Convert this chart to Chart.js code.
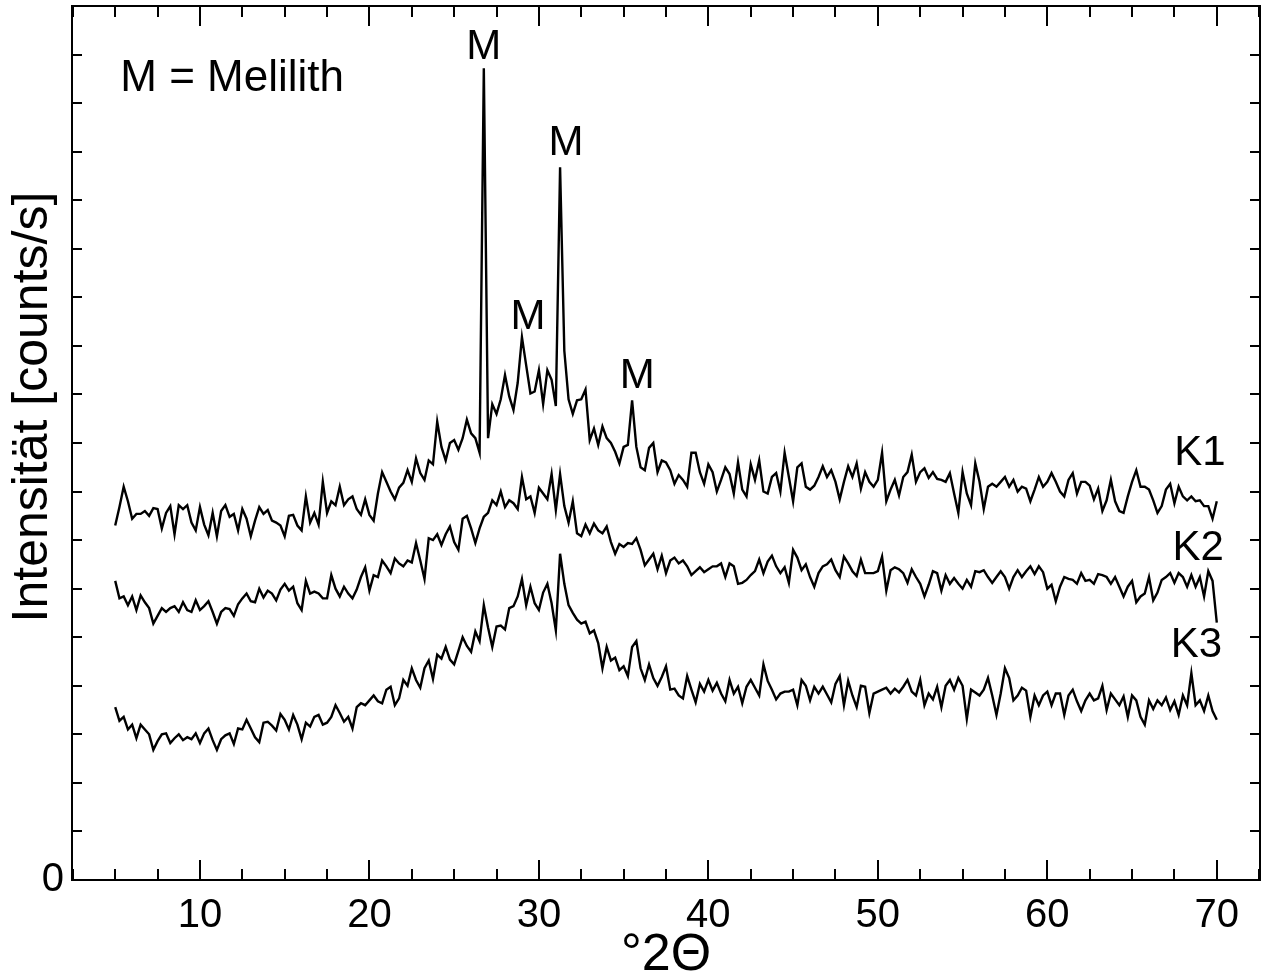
<!DOCTYPE html>
<html>
<head>
<meta charset="utf-8">
<script src="https://cdn.jsdelivr.net/npm/chart.js@4/dist/chart.umd.min.js"></script>
<style>
  html, body { margin: 0; padding: 0; background: #fff; }
  #wrap { width: 1264px; height: 976px; }
</style>
</head>
<body>
<div id="wrap"><canvas id="myChart" width="1264" height="976"></canvas></div>
<script>
// scan starts at 5 °2Θ, one reading every 0.25°
var startAngle = 5;
var stepAngle = 0.25;

// counts/s, one row per degree (x.00, x.25, x.50, x.75)
var k1 = [
    365, 384, 405, 390,  372, 377, 377, 380,  375, 383, 382, 362,  378, 385, 356, 386,  382, 386, 368, 360,
    384, 366, 355, 378,  354, 380, 386, 374,  377, 360, 382, 372,  354, 370, 384, 377,  381, 370, 368, 365,
    354, 375, 376, 365,  360, 395, 368, 378,  366, 410, 378, 390,  386, 405, 386, 392,  395, 382, 376, 392,
    376, 370, 398, 420,  410, 400, 392, 404,  409, 422, 410, 434,  419, 412, 432, 428,  472, 446, 432, 450,
    453, 443, 455, 474,  460, 455, 440, 836,  455, 490, 480, 495,  520, 498, 484, 512,  559, 530, 501, 503,
    525, 490, 525, 515,  488, 734, 545, 495,  480, 494, 495, 505,  453, 465, 448, 467,  455, 450, 441, 429,
    446, 448, 494, 446,  425, 422, 445, 450,  420, 432, 430, 422,  408, 417, 412, 405,  440, 440, 420, 408,
    428, 420, 400, 412,  425, 418, 398, 430,  402, 395, 428, 412,  432, 400, 398, 415,  419, 400, 440, 415,
    390, 425, 429, 405,  402, 406, 415, 426,  415, 422, 410, 392,  410, 426, 415, 429,  403, 420, 410, 405,
    412, 440, 390, 402,  412, 396, 415, 420,  438, 410, 420, 424,  414, 420, 413, 412,  410, 419, 398, 378,
    420, 398, 386, 429,  410, 382, 405, 408,  405, 410, 415, 405,  412, 400, 405, 403,  390, 402, 415, 405,
    410, 419, 410, 400,  395, 412, 419, 398,  410, 410, 406, 392,  403, 380, 391, 412,  390, 380, 378, 395,
    410, 422, 405, 405,  402, 391, 378, 385,  402, 408, 388, 405,  395, 391, 395, 390,  391, 385, 385, 372,
    390
];
var k2 = [
    308, 290, 292, 283,  292, 278, 293, 286,  280, 264, 272, 280,  276, 280, 282, 276,  286, 278, 276, 288,
    278, 282, 287, 276,  264, 276, 280, 279,  272, 284, 290, 295,  287, 286, 300, 291,  298, 295, 288, 299,
    305, 298, 302, 285,  278, 308, 295, 297,  295, 290, 290, 314,  300, 292, 302, 295,  290, 299, 312, 322,
    298, 314, 312, 329,  323, 316, 331, 326,  323, 329, 327, 347,  329, 310, 352, 350,  356, 345, 356, 364,
    348, 340, 372, 375,  362, 347, 362, 374,  378, 391, 386, 400,  384, 391, 388, 382,  415, 392, 395, 378,
    404, 398, 392, 418,  381, 418, 385, 368,  390, 357, 354, 366,  357, 367, 360, 357,  364, 348, 336, 346,
    343, 347, 346, 352,  340, 324, 330, 336,  320, 334, 316, 329,  332, 326, 329, 323,  314, 318, 322, 317,
    320, 323, 323, 326,  312, 326, 323, 305,  306, 309, 314, 318,  330, 316, 328, 334,  323, 316, 322, 306,
    340, 332, 319, 325,  312, 302, 316, 323,  325, 330, 319, 312,  333, 326, 318, 313,  330, 316, 316, 316,
    318, 333, 298, 319,  322, 320, 316, 306,  320, 312, 305, 292,  304, 318, 316, 298,  314, 305, 311, 305,
    300, 309, 302, 318,  317, 319, 312, 306,  312, 318, 312, 300,  312, 319, 312, 318,  323, 315, 323, 317,
    300, 304, 287, 302,  312, 310, 309, 305,  316, 308, 309, 305,  315, 314, 312, 305,  312, 302, 292, 302,
    308, 286, 292, 295,  312, 288, 296, 309,  312, 316, 306, 316,  312, 302, 314, 302,  312, 292, 318, 308,
    265
];
var k3 = [
    178, 164, 168, 155,  160, 146, 160, 155,  150, 134, 143, 150,  151, 141, 146, 150,  144, 147, 145, 151,
    141, 151, 156, 144,  134, 145, 149, 151,  140, 156, 155, 165,  156, 147, 142, 162,  163, 159, 154, 171,
    165, 155, 170, 160,  145, 162, 158, 168,  170, 160, 162, 168,  180, 172, 163, 168,  156, 178, 182, 180,
    185, 190, 184, 182,  196, 199, 180, 187,  206, 200, 218, 206,  198, 218, 226, 207,  232, 228, 240, 227,
    222, 236, 250, 241,  235, 256, 246, 283,  260, 240, 261, 262,  258, 280, 282, 292,  310, 283, 302, 285,
    278, 296, 305, 285,  257, 336, 305, 283,  275, 268, 264, 266,  254, 257, 244, 218,  240, 226, 229, 216,
    220, 210, 240, 246,  218, 206, 222, 208,  200, 209, 220, 196,  197, 190, 187, 210,  196, 183, 202, 194,
    206, 195, 203, 192,  184, 206, 192, 199,  182, 199, 206, 198,  190, 222, 205, 196,  186, 192, 194, 194,
    196, 180, 206, 200,  185, 199, 192, 199,  191, 183, 202, 210,  180, 205, 190, 178,  200, 199, 172, 192,
    194, 196, 198, 192,  197, 193, 199, 206,  194, 190, 206, 180,  192, 186, 199, 178,  200, 206, 196, 208,
    200, 166, 196, 193,  190, 196, 208, 190,  170, 192, 218, 208,  185, 190, 198, 195,  168, 190, 180, 190,
    194, 180, 192, 192,  170, 190, 196, 184,  174, 185, 192, 185,  187, 200, 175, 192,  186, 180, 189, 168,
    190, 185, 168, 160,  185, 176, 185, 180,  188, 175, 184, 170,  190, 180, 213, 180,  185, 174, 190, 174,
    165
];

// labels written into the plot, placed in data units (°2Θ, counts/s)
var noteText = ['M', 'M', 'M', 'M', 'K1', 'K2', 'K3'];
var noteX = [26.75, 31.6, 29.35, 35.8, 69.0, 68.9, 68.8];
var noteY = [857, 759, 579, 519, 439, 341, 242];

var fontName = '"Liberation Sans", Arial, Helvetica, sans-serif';

function toPoints(vals) {
    return vals.map(function (v, i) {
        return { x: startAngle + i * stepAngle, y: v };
    });
}

function lineSet(label, vals) {
    return {
        label: label,
        data: toPoints(vals),
        borderColor: '#000',
        borderWidth: 2.4,
        pointRadius: 0,
        tension: 0,
        fill: false
    };
}

// frame with inward ticks on all four sides, plus the notes and y title
var frameTicks = {
    id: 'frameTicks',
    afterDraw: function (chart) {
        var ctx = chart.ctx;
        var a = chart.chartArea;
        var x = chart.scales.x;
        var y = chart.scales.y;
        ctx.save();
        ctx.strokeStyle = '#000';
        ctx.lineWidth = 2;
        ctx.strokeRect(a.left, a.top, a.right - a.left, a.bottom - a.top);
        ctx.beginPath();
        x.ticks.forEach(function (t) {
            var px = Math.round(x.getPixelForValue(t.value));
            var len = t.value % 10 === 0 ? 20 : 11;
            ctx.moveTo(px, a.bottom);
            ctx.lineTo(px, a.bottom - len);
            ctx.moveTo(px, a.top);
            ctx.lineTo(px, a.top + len);
        });
        y.ticks.forEach(function (t) {
            var py = Math.round(y.getPixelForValue(t.value));
            ctx.moveTo(a.left, py);
            ctx.lineTo(a.left + 10, py);
            ctx.moveTo(a.right, py);
            ctx.lineTo(a.right - 10, py);
        });
        ctx.stroke();

        ctx.fillStyle = '#000';
        ctx.textAlign = 'center';
        ctx.textBaseline = 'middle';
        ctx.font = '42px ' + fontName;
        noteText.forEach(function (s, i) {
            ctx.fillText(s, x.getPixelForValue(noteX[i]), y.getPixelForValue(noteY[i]));
        });

        ctx.textAlign = 'left';
        ctx.font = '44px ' + fontName;
        ctx.fillText('M = Melilith', x.getPixelForValue(5.3), y.getPixelForValue(825));

        ctx.translate(a.left - 39, y.getPixelForValue(487));
        ctx.rotate(-Math.PI / 2);
        ctx.textAlign = 'center';
        ctx.font = '50px ' + fontName;
        ctx.fillText('Intensität [counts/s]', 0, 0);
        ctx.restore();
    }
};

var xrdChart = new Chart('myChart', {
    type: 'line',
    data: {
        datasets: [lineSet('K1', k1), lineSet('K2', k2), lineSet('K3', k3)]
    },
    options: {
        responsive: false,
        animation: false,
        layout: {
            padding: { left: 0, right: 4, top: 6, bottom: 0 }
        },
        plugins: {
            legend: { display: false },
            tooltip: { enabled: false }
        },
        scales: {
            x: {
                type: 'linear',
                min: 2.45,
                max: 72.55,
                grid: { display: false, drawTicks: false },
                border: { display: false },
                ticks: {
                    stepSize: 2.5,
                    includeBounds: false,
                    autoSkip: false,
                    maxRotation: 0,
                    padding: 12,
                    color: '#000',
                    font: { family: fontName, size: 40 },
                    callback: function (v) {
                        return v % 10 === 0 ? String(v) : '';
                    }
                },
                title: {
                    display: true,
                    text: '°2Θ',
                    color: '#000',
                    font: { family: fontName, size: 52, lineHeight: 0.8 },
                    padding: { top: 0, bottom: 0 }
                },
                afterFit: function (s) {
                    s.height = 96;
                    s.paddingLeft = 0;
                    s.paddingRight = 0;
                }
            },
            y: {
                min: 0,
                max: 900,
                grid: { display: false, drawTicks: false },
                border: { display: false },
                ticks: {
                    stepSize: 50,
                    autoSkip: false,
                    padding: 8,
                    color: '#000',
                    font: { family: fontName, size: 40 },
                    callback: function (v) {
                        return v === 0 ? '0' : '';
                    }
                },
                afterFit: function (s) {
                    s.width = 72;
                    s.paddingTop = 0;
                    s.paddingBottom = 0;
                }
            }
        }
    },
    plugins: [frameTicks]
});
</script>
</body>
</html>
